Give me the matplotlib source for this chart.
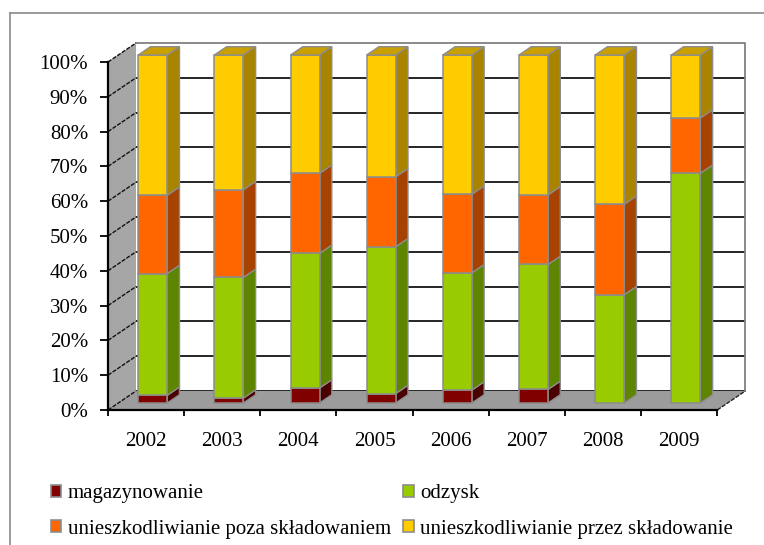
import matplotlib
matplotlib.use("Agg")
import matplotlib.pyplot as plt
from matplotlib.patches import Polygon, Rectangle
from matplotlib.lines import Line2D
import numpy as np

plt.rcParams['font.family'] = ['Liberation Serif', 'DejaVu Serif']

years = ['2002', '2003', '2004', '2005', '2006', '2007', '2008', '2009']
series_names = ['magazynowanie', 'odzysk',
                'unieszkodliwianie poza składowaniem',
                'unieszkodliwianie przez składowanie']
magazynowanie = [2.2, 1.4, 4.3, 2.7, 3.7, 3.9, 0.0, 0.0]
odzysk = [35.0, 34.7, 38.7, 42.2, 33.7, 35.9, 31.1, 66.0]
poza_skladowaniem = [22.5, 25.2, 23.0, 20.1, 22.6, 20.0, 26.0, 15.9]
przez_skladowanie = [40.3, 38.7, 34.0, 35.0, 40.0, 40.2, 42.9, 18.1]
y_ticks = [0, 10, 20, 30, 40, 50, 60, 70, 80, 90, 100]
y_labels = ['0%', '10%', '20%', '30%', '40%', '50%', '60%', '70%', '80%', '90%', '100%']

front_colors = ['#800000', '#99CC00', '#FF6600', '#FFCC00']
side_colors = ['#4a0000', '#5e8500', '#A84200', '#A88400']
top_color = '#C9A000'
edge_gray = '#8c8c8c'

W, H = 764, 545
fig = plt.figure(figsize=(W / 100, H / 100), dpi=100)

# front plane of the plot area (pixels)
x0, x1, y0, y1 = 108, 717.3, 410, 62
ax = fig.add_axes([x0 / W, (H - y0) / H, (x1 - x0) / W, (y0 - y1) / H])
n = len(years)
ax.set_xlim(-0.5, n - 0.5)
ax.set_ylim(0, 100)
ax.patch.set_alpha(0)

# pixel -> data unit conversion for depth offsets
ppx = (x1 - x0) / n
ppy = (y0 - y1) / 100.0


def off(px, py):
    return px / ppx, py / ppy


wall_dx, wall_dy = off(28, 19)

# back wall gridlines (the top edge is drawn as the wall outline)
for t in y_ticks[:-1]:
    ax.plot([-0.5 + wall_dx, n - 0.5 + wall_dx], [t + wall_dy, t + wall_dy],
            color='black', lw=1.2, clip_on=False, zorder=1,
            solid_capstyle='butt')
# back wall outline (top and right)
ax.plot([-0.5 + wall_dx, n - 0.5 + wall_dx, n - 0.5 + wall_dx],
        [100 + wall_dy, 100 + wall_dy, wall_dy],
        color='#808080', lw=1.3, clip_on=False, zorder=1)

# floor
floor = Polygon([(-0.5, 0), (n - 0.5, 0), (n - 0.5 + wall_dx, wall_dy),
                 (-0.5 + wall_dx, wall_dy)], closed=True,
                facecolor='#9c9c9c', edgecolor='none', clip_on=False, zorder=2)
ax.add_patch(floor)
ax.plot([n - 0.5, n - 0.5 + wall_dx], [0, wall_dy], color='#222222', lw=1,
        ls=(0, (3, 1)), clip_on=False, zorder=2)

# left side wall
wall = Polygon([(-0.5, 0), (-0.5, 100), (-0.5 + wall_dx, 100 + wall_dy),
                (-0.5 + wall_dx, wall_dy)], closed=True,
               facecolor='#a6a6a6', edgecolor='none', clip_on=False, zorder=2)
ax.add_patch(wall)
for t in y_ticks:
    ax.plot([-0.5, -0.5 + wall_dx], [t, t + wall_dy], color='#111111', lw=1,
            ls=(0, (3, 1)), clip_on=False, zorder=2)

# stacked bars with a simple oblique depth
fdx, fdy = off(6.6, 7)
sdx, sdy = off(12.3, 8.3)
bw = 29 / ppx
stack = np.array([magazynowanie, odzysk, poza_skladowaniem, przez_skladowanie])
for i in range(n):
    lo = 0.0
    left = i - bw / 2 + fdx
    right = i + bw / 2 + fdx
    for s in range(4):
        v = stack[s, i]
        if v <= 0:
            continue
        hi = lo + v
        b, t = lo + fdy, hi + fdy
        side = Polygon([(right, b), (right + sdx, b + sdy), (right + sdx, t + sdy),
                        (right, t)], closed=True, facecolor=side_colors[s],
                       edgecolor=edge_gray, lw=1.0, clip_on=False, zorder=4,
                       joinstyle='miter')
        ax.add_patch(side)
        face = Rectangle((left, b), right - left, t - b, facecolor=front_colors[s],
                         edgecolor=edge_gray, lw=1.1, clip_on=False, zorder=5)
        ax.add_patch(face)
        lo = hi
    t = lo + fdy
    top = Polygon([(left, t), (right, t), (right + sdx, t + sdy), (left + sdx, t + sdy)],
                  closed=True, facecolor=top_color, edgecolor=edge_gray, lw=1.0,
                  clip_on=False, zorder=5)
    ax.add_patch(top)

# axes lines, ticks and labels
for sp in ['top', 'right']:
    ax.spines[sp].set_visible(False)
for sp in ['left', 'bottom']:
    ax.spines[sp].set_color('black')
    ax.spines[sp].set_linewidth(1.6)
    ax.spines[sp].set_zorder(3)
ax.set_yticks(y_ticks)
ax.set_yticklabels(y_labels)
ax.set_xticks(np.arange(-0.5, n, 1.0))
ax.set_xticklabels([])
ax.set_xticks(np.arange(n), minor=True)
ax.set_xticklabels(years, minor=True)
ax.tick_params(axis='y', which='major', length=5.8, width=1.3, pad=8.6,
               labelsize=15, color='black')
ax.tick_params(axis='x', which='major', length=4.3, width=1.3, color='black')
ax.tick_params(axis='x', which='minor', length=0, pad=15.5, labelsize=15)

# legend
order = [0, 2, 1, 3]
handles = [Rectangle((0, 0), 1, 1, facecolor=front_colors[k], edgecolor=edge_gray,
                     lw=1.2) for k in order]
labels = [series_names[k] for k in order]
fig.legend(handles, labels, ncol=2, loc='upper left',
           bbox_to_anchor=(51 / W, 1 - 484 / H), frameon=False, fontsize=15,
           handlelength=0.5, handleheight=0.5, handletextpad=0.3,
           columnspacing=0.6, labelspacing=0.8, borderpad=0, borderaxespad=0)

# chart-area border
fig.add_artist(Line2D([10 / W, 10 / W], [0, 1 - 13 / H], color='#8a8a8a', lw=1.2,
                      transform=fig.transFigure))
fig.add_artist(Line2D([10 / W, 1], [1 - 13 / H, 1 - 13 / H], color='#8a8a8a', lw=1.2,
                      transform=fig.transFigure))

fig.savefig('out.png', dpi=100)
